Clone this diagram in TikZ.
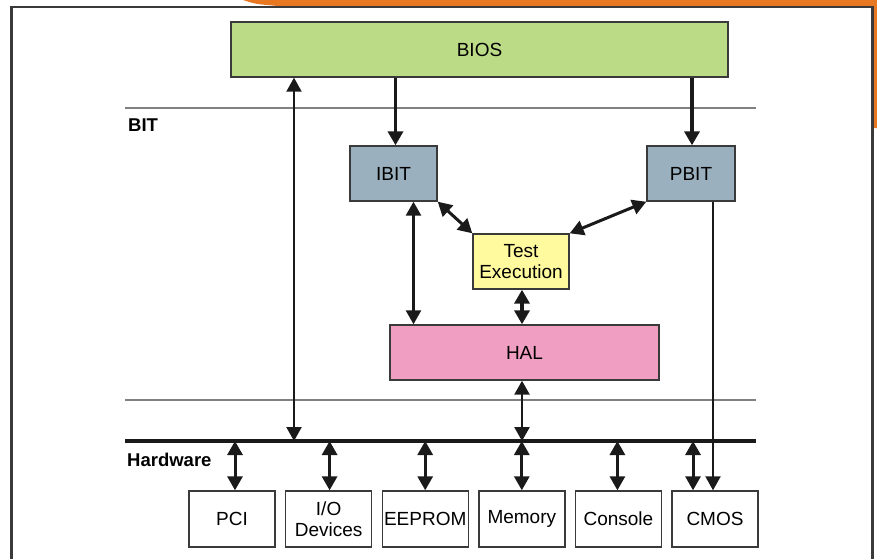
\documentclass[tikz,border=0pt]{standalone}
\usepackage{fontspec}
\setmainfont{Liberation Sans}
\usetikzlibrary{arrows.meta}
\definecolor{biosgreen}{HTML}{BBDB86}
\definecolor{bitblue}{HTML}{9BB0BE}
\definecolor{testyellow}{HTML}{FFFA9E}
\definecolor{halpink}{HTML}{F09EC1}
\definecolor{edgeorange}{HTML}{E87722}
\definecolor{boxline}{HTML}{3A3A3A}
\definecolor{arrowline}{HTML}{1A1A1A}
\def \BoxFont {\fontsize{19}{21}\selectfont}
\def \Tip {Triangle[width=15pt,length=14pt]}
\tikzstyle{block}=[
  draw=boxline,
  line width=1.4pt,
  minimum height=55pt,
  inner sep=0pt,
  align=center,
  font=\BoxFont
]
\tikzstyle{hwbox}=[block, fill=white, minimum width=86pt, minimum height=56pt]
\tikzstyle{layer}=[draw=gray, line width=1.3pt]
\tikzstyle{tag}=[anchor=west, inner sep=0pt, font=\bfseries\fontsize{18.5}{20}\selectfont]
\tikzstyle{link}=[draw=arrowline, line width=2.2pt, -{\Tip}]
\tikzstyle{bilink}=[link, {\Tip}-{\Tip}]

\begin{document}
\begin{tikzpicture}[x=1pt,y=-1pt]
  \useasboundingbox (0,0) rectangle (877,558);

  % page edge
  \fill[edgeorange] (243,0) -- (877,0) -- (877,128) -- (874,128) -- (874,6)
    -- (278,6) .. controls (255,4) .. (243,0);
  \draw[draw=boxline, line width=2.5pt] (11.5,7) rectangle (872.5,580);

  % layers
  \draw[layer] (125,108) -- (756,108);
  \draw[layer] (125,400) -- (756,400);
  \coordinate (busL) at (125,441);
  \coordinate (busR) at (756,441);
  \draw[draw=arrowline, line width=3.5pt] (busL) -- (busR);
  \node[tag] (bit) at (128,125) {BIT};
  \node[tag] (hw) at (127,460) {Hardware};

  % blocks
  \node[block, fill=biosgreen, minimum width=497pt] (bios) at (479.5,49.5) {BIOS};
  \node[block, fill=bitblue, minimum width=87pt] (ibit) at (393.5,173.5) {IBIT};
  \node[block, fill=bitblue, minimum width=88pt] (pbit) at (691,173.5) {PBIT};
  \node[block, fill=testyellow, minimum width=96pt] (test) at (521,261.5) {Test\\Execution};
  \node[block, fill=halpink, minimum width=269pt] (hal) at (524.5,352.5) {HAL};

  % hardware
  \foreach \name/\txt [count=\i from 0] in {pci/PCI, io/{I/O\\Devices}, eeprom/EEPROM,
      mem/Memory, con/Console, cmos/CMOS}{
    \pgfmathsetmacro{\x}{232 + \i*96.6}
    \node[hwbox] (\name) at (\x, 519) {\txt};
  }

  % connect bios
  \coordinate (biosup) at (294,441);
  \draw[bilink] (biosup) -- (biosup |- bios.south);
  \draw[link, line width=3.5pt] ([xshift=2pt]ibit.north |- bios.south) -- ([xshift=2pt]ibit.north);
  \draw[link, line width=3.5pt] ([xshift=1pt]pbit.north |- bios.south) -- ([xshift=1pt]pbit.north);

  % connect bit
  \draw[bilink, line width=3pt] (ibit.south east) -- (test.north west);
  \draw[bilink, line width=3pt] (pbit.south west) -- (test.north east);
  \draw[bilink, line width=2.6pt] ([xshift=20pt]ibit.south) -- ([xshift=20pt]ibit.south |- hal.north);
  \draw[bilink, line width=3.5pt] ([xshift=1pt]test.south) -- ([xshift=1pt]test.south |- hal.north);
  \draw[bilink, line width=2.6pt] ([xshift=1pt]test.south |- hal.south) -- ([xshift=1pt]test.south |- busL);
  \draw[link] ([xshift=22pt]pbit.south) -- ([xshift=22pt]pbit.south |- cmos.north);

  % connect hardware
  \foreach \name/\dx in {pci/3, io/1, eeprom/0, mem/0, con/-1}{
    \draw[bilink, line width=3pt] ([xshift=\dx pt]\name.north) -- ([xshift=\dx pt]\name.north |- busL);
  }
  \draw[bilink, line width=3pt] ([xshift=-22pt]cmos.north) -- ([xshift=-22pt]cmos.north |- busL);
\end{tikzpicture}
\end{document}
